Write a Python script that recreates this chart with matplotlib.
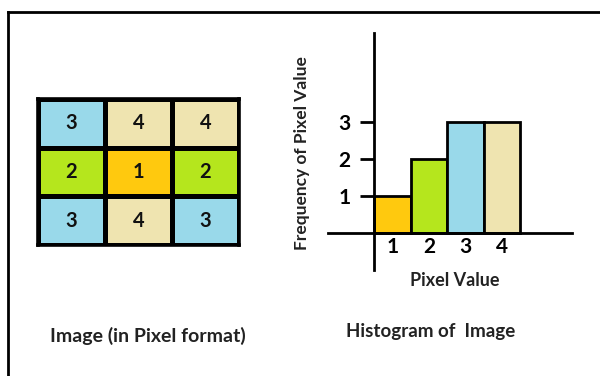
import numpy as np
import matplotlib
matplotlib.use("Agg")
import matplotlib.pyplot as plt
from matplotlib.colors import ListedColormap, BoundaryNorm
from matplotlib.lines import Line2D

# pixel grid (3x3 image)
pixel_grid = [[3, 4, 4],
              [2, 1, 2],
              [3, 4, 3]]

# histogram data
pixel_levels = [1, 2, 3, 4]
frequency = [1, 2, 3, 3]
ytick_values = [1, 2, 3]

# colour per pixel value
level_colors = ["#FFC90E", "#B5E61D", "#99D9EA", "#EFE4B0"]

plt.rcParams['font.family'] = ['Lato', 'DejaVu Sans']

fig = plt.figure(figsize=(6.0, 3.76), dpi=100)

# outer frame (top and left borders)
fig.add_artist(Line2D([8/600, 1.0], [1 - 12/376, 1 - 12/376], color="black", lw=2, transform=fig.transFigure))
fig.add_artist(Line2D([8/600, 8/600], [0.0, 1 - 12/376], color="black", lw=2, transform=fig.transFigure))

# --- image grid ---
ax_img = fig.add_axes([38/600, (376-245)/376, 201/600, 146/376])
cmap = ListedColormap(level_colors)
norm = BoundaryNorm([0.5, 1.5, 2.5, 3.5, 4.5], cmap.N)
grid = np.array(pixel_grid)
ax_img.pcolormesh(grid, cmap=cmap, norm=norm, edgecolors="black", linewidth=2.4)
ax_img.set_xlim(0, 3)
ax_img.set_ylim(3, 0)
for r in range(grid.shape[0]):
    for c in range(grid.shape[1]):
        ax_img.text(c + 0.5, r + 0.5, str(grid[r, c]), ha="center", va="center",
                    fontsize=14.5, fontweight="bold", color="#111111")
ax_img.set_xticks([])
ax_img.set_yticks([])
for s in ax_img.spines.values():
    s.set_linewidth(2.6)
ax_img.set_zorder(3)

fig.text(148/600, 1 - 336/376, "Image (in Pixel format)", ha="center", va="center",
         fontsize=14, fontweight="bold", color="#222222")

# --- histogram ---
ax_h = fig.add_axes([328/600, (376-270)/376, 244/600, 237/376])
ax_h.bar(pixel_levels, frequency, width=1.0, color=level_colors, edgecolor="black", linewidth=2)
ax_h.set_xlim(-0.76, 5.92)
ax_h.set_ylim(-1.0, 5.4)
ax_h.spines["left"].set_position(("data", 0.5))
ax_h.spines["bottom"].set_position(("data", 0))
ax_h.spines["top"].set_visible(False)
ax_h.spines["right"].set_visible(False)
ax_h.spines["left"].set_linewidth(2)
ax_h.spines["bottom"].set_linewidth(2)
ax_h.set_yticks(ytick_values)
ax_h.set_yticklabels([str(v) for v in ytick_values], fontsize=15, fontweight="bold")
ax_h.tick_params(axis="y", direction="out", length=10, width=2, pad=7)
ax_h.set_xticks(pixel_levels)
ax_h.set_xticklabels([str(v) for v in pixel_levels], fontsize=15, fontweight="bold")
ax_h.tick_params(axis="x", length=0, pad=3)
ax_h.patch.set_alpha(0)

fig.text(302/600, 1 - 153/376, "Frequency of Pixel Value", rotation=90, ha="center", va="center",
         fontsize=12.5, fontweight="bold", color="#222222")
fig.text(455/600, 1 - 280/376, "Pixel Value", ha="center", va="center",
         fontsize=13, fontweight="bold", color="#222222")
fig.text(431/600, 1 - 331/376, "Histogram of  Image", ha="center", va="center",
         fontsize=13.5, fontweight="bold", color="#222222")

fig.savefig("out.png", dpi=100)
